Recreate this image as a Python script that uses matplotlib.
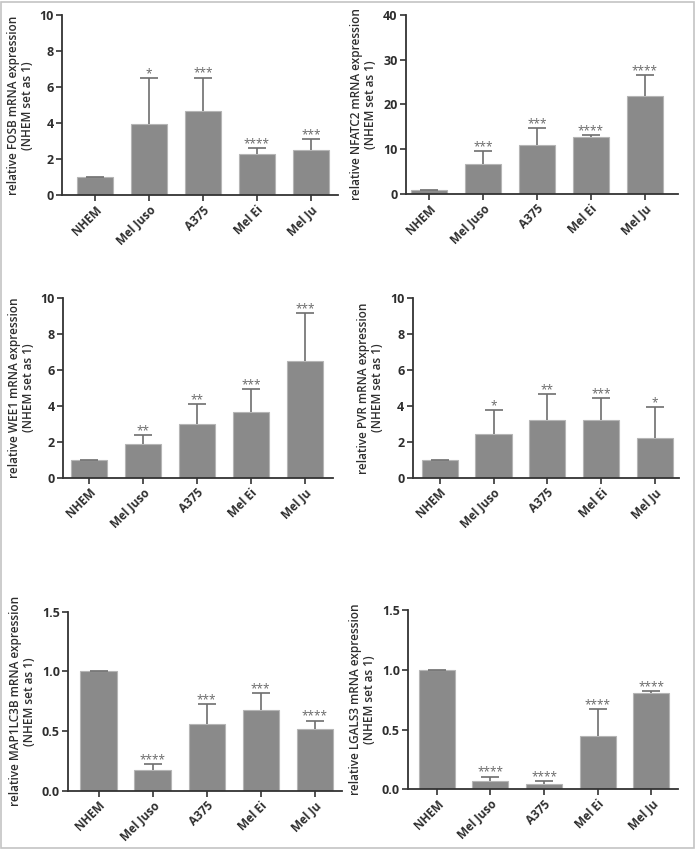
import matplotlib.pyplot as plt
from matplotlib.patches import Rectangle
import numpy as np

cell_lines = ["NHEM", "Mel Juso", "A375", "Mel Ei", "Mel Ju"]

fosb_mean = [1.0, 3.95, 4.7, 2.31, 2.54]
fosb_err = [0.02, 2.55, 1.84, 0.32, 0.57]
fosb_sig = ["", "*", "***", "****", "***"]

nfatc2_mean = [0.9, 6.7, 10.9, 12.7, 21.8]
nfatc2_err = [0.1, 2.9, 3.8, 0.5, 4.7]
nfatc2_sig = ["", "***", "***", "****", "****"]

wee1_mean = [0.99, 1.86, 2.97, 3.68, 6.51]
wee1_err = [0.02, 0.52, 1.12, 1.25, 2.65]
wee1_sig = ["", "**", "**", "***", "***"]

pvr_mean = [0.99, 2.42, 3.2, 3.22, 2.21]
pvr_err = [0.02, 1.35, 1.47, 1.22, 1.75]
pvr_sig = ["", "*", "**", "***", "*"]

map1lc3b_mean = [1.0, 0.173, 0.559, 0.676, 0.52]
map1lc3b_err = [0.003, 0.047, 0.17, 0.145, 0.067]
map1lc3b_sig = ["", "****", "***", "***", "****"]

lgals3_mean = [0.998, 0.07, 0.047, 0.449, 0.808]
lgals3_err = [0.003, 0.036, 0.023, 0.223, 0.014]
lgals3_sig = ["", "****", "****", "****", "****"]

FONT = "Open Sans"
BAR_COLOR = "#8a8a8a"
TEXT_COLOR = "#2e2e2e"


def bar_panel(fig, rect, means, errs, sigs, gene, ymax, ystep, fmt, xlim):
    ax = fig.add_axes(rect)
    x = np.arange(len(cell_lines))
    ax.bar(x, means, width=0.67, color=BAR_COLOR, edgecolor="#b5b5b5", linewidth=0.8, zorder=2)
    _, caps, _ = ax.errorbar(x, means, yerr=[np.zeros(len(means)), errs], fmt="none",
                             ecolor="#6e6e6e", elinewidth=1.2, capsize=6.5, capthick=1.2,
                             zorder=3)
    caps[0].set_visible(False)
    for xi, m, e, s in zip(x, means, errs, sigs):
        if s:
            ax.text(xi, m + e - ymax * 0.012, s, ha="center", va="bottom",
                    fontsize=8.5, color="#666666", family=FONT)
    ax.set_xlim(*xlim)
    ax.set_ylim(0, ymax)
    ticks = np.arange(0, ymax + ystep / 2, ystep)
    ax.set_yticks(ticks)
    ax.set_yticklabels([fmt.format(t) for t in ticks], fontsize=9,
                       fontweight="bold", family=FONT, color=TEXT_COLOR)
    ax.set_xticks(x)
    ax.set_xticklabels(cell_lines, rotation=45, ha="right", rotation_mode="anchor",
                       fontsize=8.5, fontweight="bold", family=FONT, color=TEXT_COLOR)
    ax.set_ylabel(f"relative {gene} mRNA expression\n(NHEM set as 1)", fontsize=8.5,
                  family=FONT, fontweight="semibold", color=TEXT_COLOR, labelpad=4,
                  linespacing=1.1)
    for side in ["top", "right"]:
        ax.spines[side].set_visible(False)
    for side in ["left", "bottom"]:
        ax.spines[side].set_linewidth(1.3)
        ax.spines[side].set_color("#333333")
    ax.tick_params(direction="out", length=4, width=1.2, color="#333333", pad=2)
    return ax


fig = plt.figure(figsize=(6.95, 8.49), dpi=100)

bar_panel(fig, [0.089, 0.770, 0.397, 0.212], fosb_mean, fosb_err, fosb_sig,
          "FOSB", 10, 2, "{:.0f}", (-0.61, 4.5))
bar_panel(fig, [0.584, 0.7715, 0.391, 0.211], nfatc2_mean, nfatc2_err, nfatc2_sig,
          "NFATC2", 40, 10, "{:.0f}", (-0.43, 4.61))
bar_panel(fig, [0.0906, 0.4373, 0.3885, 0.2113], wee1_mean, wee1_err, wee1_sig,
          "WEE1", 10, 2, "{:.0f}", (-0.48, 4.52))
bar_panel(fig, [0.5938, 0.4373, 0.3837, 0.2113], pvr_mean, pvr_err, pvr_sig,
          "PVR", 10, 2, "{:.0f}", (-0.5, 4.45))
bar_panel(fig, [0.0983, 0.0687, 0.3933, 0.2108], map1lc3b_mean, map1lc3b_err, map1lc3b_sig,
          "MAP1LC3B", 1.5, 0.5, "{:.1f}", (-0.56, 4.5))
bar_panel(fig, [0.5875, 0.0703, 0.3885, 0.2112], lgals3_mean, lgals3_err, lgals3_sig,
          "LGALS3", 1.5, 0.5, "{:.1f}", (-0.53, 4.5))

fig.patches.append(Rectangle((0.001, 0.001), 0.997, 0.997, transform=fig.transFigure,
                             fill=False, edgecolor="#c4c4c4", linewidth=1.2))

fig.savefig("out.png", dpi=100)
